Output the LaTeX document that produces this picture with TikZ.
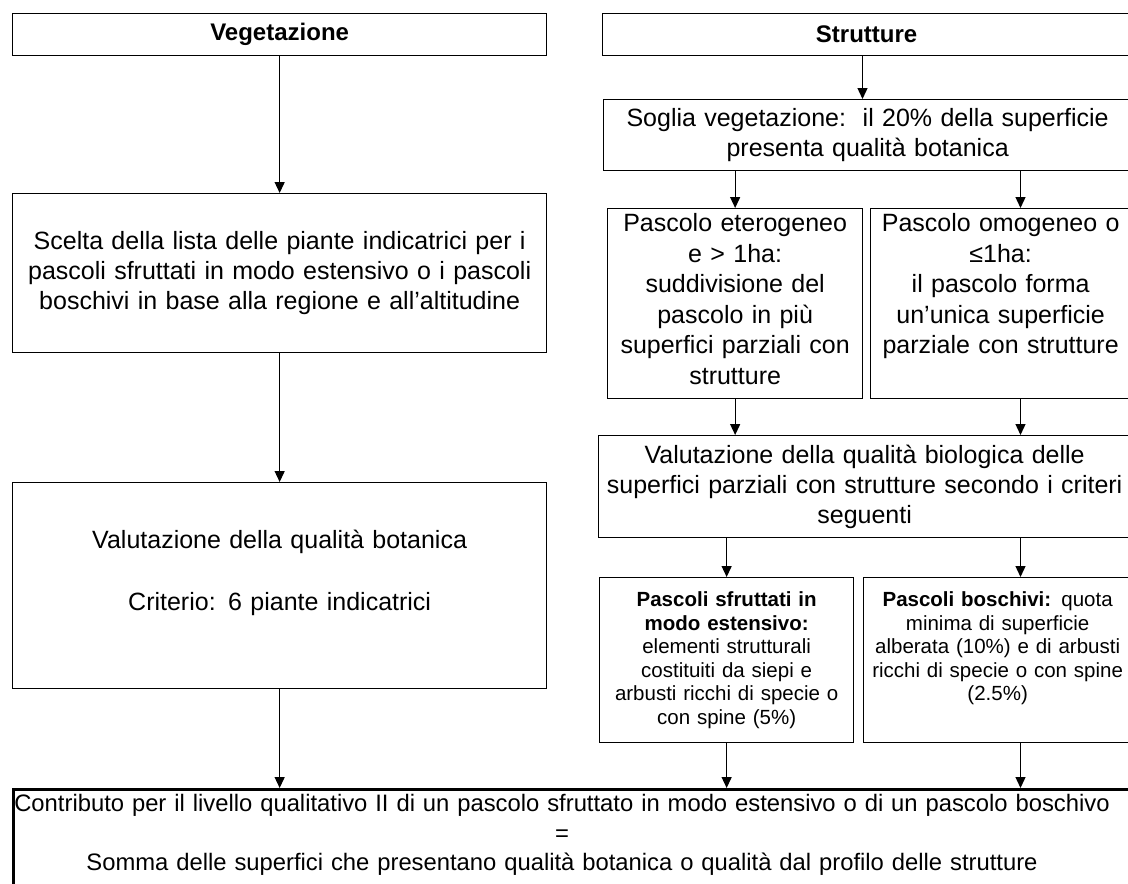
\documentclass[tikz,border=0pt]{standalone}
\usepackage{fontspec}
\setmainfont{Liberation Sans}
\usetikzlibrary{arrows.meta}
\tikzset{
  box/.style={
    draw,
    line width=1.3pt,
    inner sep=0pt,
    align=center,
    anchor=north west,
    font=\fontsize{25}{30}\selectfont,
  },
  head box/.style={
    box,
    font=\fontsize{24}{28}\selectfont\bfseries,
  },
  small box/.style={
    box,
    font=\fontsize{20.5}{23.5}\selectfont,
  },
  sum frame/.style={
    draw,
    line width=3pt,
    inner sep=0pt,
    anchor=north west,
  },
  sum text/.style={
    inner sep=0pt,
    align=center,
    text width=1110pt,
    font=\fontsize{23.8}{29.5}\selectfont,
  },
  size/.style 2 args={
    minimum width=#1,
    minimum height=#2,
    text width=#1-10pt,
  },
  top text/.style 2 args={
    text height=#1,
    text depth=#2,
  },
  link/.style={
    draw,
    line width=1.3pt,
    -{Triangle[width=10pt,length=11pt]},
  },
}

\begin{document}
\begin{tikzpicture}[x=1pt,y=-1pt]
  \useasboundingbox (0,0) rectangle (1128,884);
  \clip (0,0) rectangle (1128,884);

  % columns of the arrows on the right
  \coordinate (mcol) at (862.5,0);
  \coordinate (rcol) at (1020.5,0);

  % vegetazione
  \node[head box, size={534}{42}] (veg) at (12,13) {Vegetazione};
  \node[box, size={534}{159}] (scelta) at (12,193)
    {Scelta della lista delle piante indicatrici per i\\
     pascoli sfruttati in modo estensivo o i pascoli\\
     boschivi in base alla regione e all’altitudine};
  \node[box, size={534}{206}, top text={66pt}{140pt}] (valbot) at (12,482)
    {Valutazione della qualità botanica\\[32pt]
     Criterio: 6 piante indicatrici};

  % strutture
  \node[head box, size={528}{42}] (strut) at (602,13) {Strutture};
  \node[box, size={528}{71}] (soglia) at (603,99)
    {Soglia vegetazione:\ \ il 20\% della superficie\\
     presenta qualità botanica};
  \node[box, size={255}{190}, top text={23pt}{167pt},
        font=\fontsize{25}{30.5}\selectfont] (eter) at (607,208)
    {Pascolo eterogeneo\\ e > 1ha:\\ suddivisione del\\ pascolo in più\\
     superfici parziali con\\ strutture};
  \node[box, size={260}{190}, top text={23pt}{167pt},
        font=\fontsize{25}{30.5}\selectfont] (omog) at (870,208)
    {Pascolo omogeneo o\\ ≤1ha:\\ il pascolo forma\\ un’unica superficie\\
     parziale con strutture};
  \node[box, size={532}{102}] (valbio) at (598,435)
    {Valutazione della qualità biologica delle\\
     superfici parziali con strutture secondo i criteri\\ seguenti};
  \node[small box, size={254}{165}, top text={29pt}{136pt}] (sfrut) at (599,577)
    {\textbf{Pascoli sfruttati in}\\ \textbf{modo estensivo:}\\
     elementi strutturali\\ costituiti da siepi e\\
     arbusti ricchi di specie o\\ con spine (5\%)};
  \node[small box, size={268}{165}, top text={29pt}{136pt}] (bosch) at (863,577)
    {\textbf{Pascoli boschivi:} quota\\ minima di superficie\\
     alberata (10\%) e di arbusti\\ ricchi di specie o con spine\\ (2.5\%)};

  % somma
  \node[sum frame, minimum width=1160, minimum height=110] (contrib) at (12,788) {};
  \node[sum text] (sumtxt) at (562,835)
    {Contributo per il livello qualitativo II di un pascolo sfruttato in modo estensivo o di un pascolo boschivo\\
     =\\
     Somma delle superfici che presentano qualità botanica o qualità dal profilo delle strutture};

  \draw[link] (veg) -- (scelta);
  \draw[link] (scelta) -- (valbot);
  \draw[link] (valbot.south) -- (valbot.south |- contrib.north);
  \draw[link] (strut.south -| mcol) -- (soglia.north -| mcol);
  \draw[link] (eter.north |- soglia.south) -- (eter.north);
  \draw[link] (soglia.south -| rcol) -- (omog.north -| rcol);
  \draw[link] (eter.south) -- (eter.south |- valbio.north);
  \draw[link] (omog.south -| rcol) -- (valbio.north -| rcol);
  \draw[link] (sfrut.north |- valbio.south) -- (sfrut.north);
  \draw[link] (valbio.south -| rcol) -- (bosch.north -| rcol);
  \draw[link] (sfrut.south) -- (sfrut.south |- contrib.north);
  \draw[link] (bosch.south -| rcol) -- (contrib.north -| rcol);
\end{tikzpicture}
\end{document}
